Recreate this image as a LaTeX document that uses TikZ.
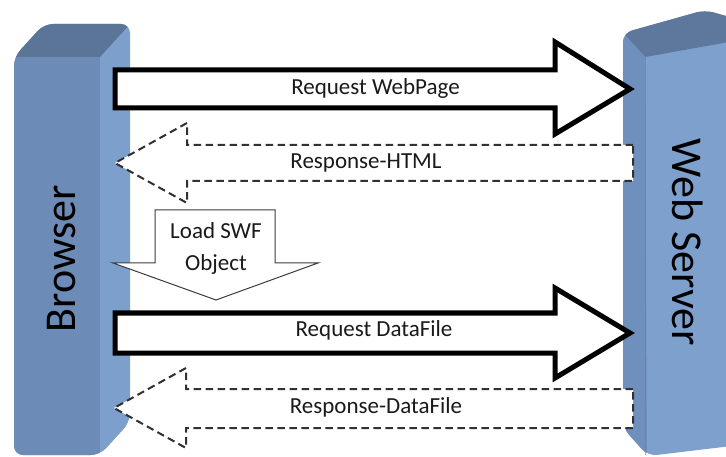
\documentclass[tikz,border=0pt]{standalone}
\usepackage{fontspec}
\setmainfont{Carlito}
\definecolor{brFront}{HTML}{6C8BB6}
\definecolor{brSide}{HTML}{7D9FCC}
\definecolor{brTop}{HTML}{5A7598}
\definecolor{wsFront}{HTML}{7DA0CD}
\definecolor{wsLeft}{HTML}{6F8FBD}
\definecolor{wsTop}{HTML}{5D789C}
\definecolor{ink}{HTML}{1A1A1A}
\begin{document}
\begin{tikzpicture}[x=1pt,y=-1pt,
  sendarrow/.style={draw=black, line width=5pt, fill=white, line join=miter},
  replyarrow/.style={draw=ink!90, line width=2pt, dash pattern=on 7.5pt off 4.5pt, fill=white, line join=miter},
  loadarrow/.style={draw=ink!85, line width=1pt, fill=white, line join=miter},
  msg/.style={font=\fontsize{23}{28}\selectfont, text=ink, anchor=base, inner sep=0pt},
  tier/.style={font=\fontsize{44}{50}\selectfont, text=black, anchor=base, inner sep=0pt}]
\useasboundingbox (0,0) rectangle (726,457);
\clip (0,0) rectangle (726,457);

% ---- Browser tier: a bevelled block seen from the front-left
\begin{scope}
  \clip[rounded corners=9pt] (14,57) -- (44,24) -- (130,24) -- (130,422)
        -- (100,455) -- (14,455) -- cycle;
  \fill[brSide]  (0,0) rectangle (140,457);
  \fill[brTop]   (14,57) -- (44,24) -- (130,24) -- (100,57) -- cycle;
  \fill[brFront] (14,57) rectangle (100,457);
\end{scope}
\node[tier, rotate=90] (browser) at (75,258.5) {Browser};

% ---- Web server tier: a bevelled block seen from the front-right
\begin{scope}
  \clip[rounded corners=9pt] (623,33) -- (705,10) -- (740,20) -- (740,445)
        -- (648,456) -- (623,428) -- cycle;
  \fill[wsFront] (600,0) rectangle (740,457);
  \fill[wsTop]  (623,33) -- (705,10) -- (740,18) -- (740,40) -- (645,57) -- cycle;
  \fill[wsLeft] (623,33) -- (645,57) -- (647,457) -- (623,440) -- cycle;
\end{scope}
\draw[wsLeft!85!black, line width=0.6pt, opacity=0.5] (645.5,57) -- (645.5,455);
\node[tier, rotate=-90] (server) at (672,242.5) {Web Server};

% ---- Request WebPage (browser -> server)
\draw[sendarrow] (115,70) -- (555,70) -- (555,42) -- (630,89) -- (555,134)
      -- (555,108) -- (115,108) -- cycle;
\node[msg] (reqpage) at (375.5,95) {Request WebPage};

% ---- Response-HTML (server -> browser)
\draw[replyarrow] (633,145) -- (187,145) -- (187,123) -- (115,163)
      -- (187,203) -- (187,181) -- (633,181) -- cycle;
\node[msg] (resphtml) at (366,169) {Response-HTML};

% ---- Load SWF Object (inside the browser)
\draw[loadarrow] (155,210) -- (275,210) -- (275,263) -- (318,263) -- (216,300)
      -- (113,263) -- (155,263) -- cycle;
\node[msg] (loadswf) at (216,239) {Load SWF};
\node[msg] (loadobj) at (216,270.5) {Object};

% ---- Request DataFile (browser -> server)
\draw[sendarrow] (115,313) -- (555,313) -- (555,288) -- (630,333) -- (555,378)
      -- (555,353) -- (115,353) -- cycle;
\node[msg] (reqdata) at (374,337) {Request DataFile};

% ---- Response-DataFile (server -> browser)
\draw[replyarrow] (633,389) -- (186,389) -- (186,368) -- (114,408)
      -- (186,448) -- (186,428) -- (633,428) -- cycle;
\node[msg] (respdata) at (376,413) {Response-DataFile};
\end{tikzpicture}
\end{document}
